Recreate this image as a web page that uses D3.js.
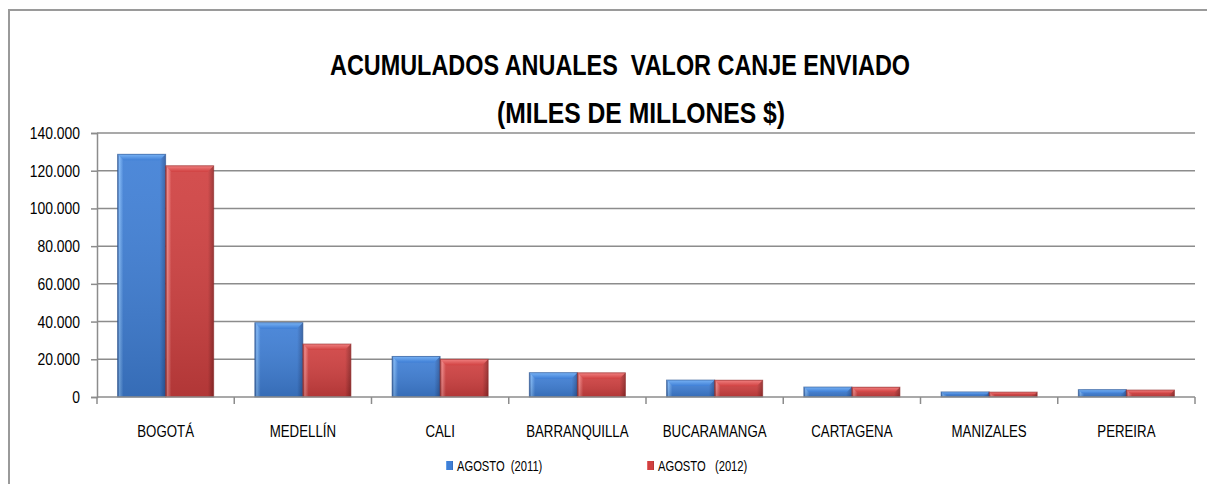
<!DOCTYPE html>
<html>
<head>
<meta charset="utf-8">
<script src="https://cdn.jsdelivr.net/npm/d3@7"></script>
<style>
  body { margin: 0; background: #fff; }
  svg { display: block; }
  text { font-family: "Liberation Sans", Arial, sans-serif; fill: #000; }
</style>
</head>
<body>
<script>
// Chart data
var cities = ["BOGOTÁ", "MEDELLÍN", "CALI", "BARRANQUILLA", "BUCARAMANGA", "CARTAGENA", "MANIZALES", "PEREIRA"];
var series = ["AGOSTO  (2011)", "AGOSTO   (2012)"];
var values2011 = [128700, 39400, 21500, 12900, 9000, 5300, 2700, 3900];
var values2012 = [122600, 28100, 20000, 12800, 8900, 5200, 2600, 3700];
var yTicks = [0, 20000, 40000, 60000, 80000, 100000, 120000, 140000];

var w = 1207, h = 484;
var plotLeft = 97, plotRight = 1195, plotTop = 133, plotBottom = 397;

var svg = d3.select("body").append("svg")
    .attr("width", w)
    .attr("height", h);

// outer chart frame (runs off the right and bottom edges)
svg.append("rect")
    .attr("x", 9).attr("y", 10)
    .attr("width", 1300).attr("height", 600)
    .attr("fill", "none")
    .attr("stroke", "#9a9a9a")
    .attr("stroke-width", 2);

// Gradients for the bevelled bars
var defs = svg.append("defs");
var palettes = [
    { id: "g0", edge: "#2d5aa0", mid: "#3f7fd6", light: "#78b2f4" },
    { id: "g1", edge: "#962a2a", mid: "#d04040", light: "#f08080" }
];
palettes.forEach(function(p) {
    var g = defs.append("linearGradient").attr("id", p.id)
        .attr("x1", 0).attr("x2", 1).attr("y1", 0).attr("y2", 0);
    g.append("stop").attr("offset", "0%").attr("stop-color", p.edge);
    g.append("stop").attr("offset", "4%").attr("stop-color", p.light);
    g.append("stop").attr("offset", "12%").attr("stop-color", p.mid);
    g.append("stop").attr("offset", "88%").attr("stop-color", p.mid);
    g.append("stop").attr("offset", "100%").attr("stop-color", p.edge);
    var v = defs.append("linearGradient").attr("id", p.id + "v")
        .attr("x1", 0).attr("x2", 0).attr("y1", 0).attr("y2", 1);
    v.append("stop").attr("offset", "0%").attr("stop-color", "#fff").attr("stop-opacity", 0.08);
    v.append("stop").attr("offset", "100%").attr("stop-color", "#000").attr("stop-opacity", 0.15);
    var t = defs.append("linearGradient").attr("id", p.id + "t")
        .attr("x1", 0).attr("x2", 0).attr("y1", 0).attr("y2", 1);
    t.append("stop").attr("offset", "0%").attr("stop-color", p.light);
    t.append("stop").attr("offset", "100%").attr("stop-color", p.mid);
});

// Scales
var y = d3.scaleLinear().domain([0, 140000]).range([plotBottom, plotTop]);
var x0 = d3.scaleBand().domain(cities).range([plotLeft, plotRight])
    .paddingInner(0.3).paddingOuter(0.15);
var x1 = d3.scaleBand().domain([0, 1]).range([0, x0.bandwidth()]);
var step = x0.step();

var locale = d3.formatLocale({ decimal: ",", thousands: ".", grouping: [3], currency: ["$", ""] });
var fmt = locale.format(",.0f");

// Gridlines
svg.append("g").selectAll("line")
    .data(yTicks.slice(1))
    .enter().append("line")
    .attr("x1", plotLeft).attr("x2", plotRight)
    .attr("y1", function(d) { return y(d); })
    .attr("y2", function(d) { return y(d); })
    .attr("stroke", "#8c8c8c")
    .attr("stroke-width", 1.5);

// Y axis (labels drawn by hand so the narrow look can be faked)
var yAxis = svg.append("g")
    .attr("transform", "translate(" + plotLeft + ",0)")
    .call(d3.axisLeft(y).tickValues(yTicks).tickFormat("").tickSize(6));
yAxis.select(".domain").attr("stroke", "#8c8c8c").attr("stroke-width", 1.5);
yAxis.selectAll(".tick line").attr("stroke", "#8c8c8c").attr("stroke-width", 1.5);

svg.append("g").selectAll("text")
    .data(yTicks)
    .enter().append("text")
    .attr("transform", function(d) { return "translate(80," + (y(d) + 6) + ") scale(0.82,1)"; })
    .attr("text-anchor", "end")
    .style("font-size", "17px")
    .text(function(d) { return fmt(d); });

// Bars
var data = [];
cities.forEach(function(c, i) {
    data.push({ city: c, s: 0, v: values2011[i] });
    data.push({ city: c, s: 1, v: values2012[i] });
});

var bars = svg.append("g").selectAll("g")
    .data(data)
    .enter().append("g")
    .attr("transform", function(d) { return "translate(" + (x0(d.city) + x1(d.s)) + ",0)"; });

bars.append("rect")
    .attr("x", 0)
    .attr("y", function(d) { return y(d.v); })
    .attr("width", x1.bandwidth())
    .attr("height", function(d) { return plotBottom - y(d.v); })
    .attr("fill", function(d) { return "url(#g" + d.s + ")"; });

bars.append("rect")
    .attr("x", 0)
    .attr("y", function(d) { return y(d.v); })
    .attr("width", x1.bandwidth())
    .attr("height", function(d) { return plotBottom - y(d.v); })
    .attr("fill", function(d) { return "url(#g" + d.s + "v)"; });

// top bevel
bars.append("path")
    .attr("d", function(d) {
        var t = y(d.v), bw = x1.bandwidth();
        var bh = Math.min(6, (plotBottom - t) / 2);
        return "M0," + t + "L" + bw + "," + t + "L" + (bw - bh) + "," + (t + bh) + "L" + bh + "," + (t + bh) + "Z";
    })
    .attr("fill", function(d) { return "url(#g" + d.s + "t)"; });

bars.append("rect")
    .attr("x", 0)
    .attr("y", function(d) { return y(d.v); })
    .attr("width", x1.bandwidth())
    .attr("height", function(d) { return plotBottom - y(d.v); })
    .attr("fill", "none")
    .attr("stroke", function(d) { return d.s === 0 ? "#2a548f" : "#8e2828"; })
    .attr("stroke-opacity", 0.6)
    .attr("stroke-width", 1);

// X axis
svg.append("line")
    .attr("x1", plotLeft).attr("x2", plotRight)
    .attr("y1", plotBottom).attr("y2", plotBottom)
    .attr("stroke", "#8c8c8c").attr("stroke-width", 1.5);

svg.append("g").selectAll("line")
    .data(d3.range(cities.length + 1))
    .enter().append("line")
    .attr("x1", function(i) { return plotLeft + i * step; })
    .attr("x2", function(i) { return plotLeft + i * step; })
    .attr("y1", plotBottom).attr("y2", plotBottom + 7)
    .attr("stroke", "#8c8c8c").attr("stroke-width", 1.5);

svg.append("g").selectAll("text")
    .data(cities)
    .enter().append("text")
    .attr("transform", function(d) {
        return "translate(" + (x0(d) + x0.bandwidth() / 2) + ",437) scale(0.78,1)";
    })
    .attr("text-anchor", "middle")
    .style("font-size", "17px")
    .text(function(d) { return d; });

// Title
svg.append("text")
    .attr("x", 330).attr("y", 75)
    .style("font-size", "30px").attr("font-weight", "bold")
    .attr("textLength", 580).attr("lengthAdjust", "spacingAndGlyphs")
    .style("white-space", "pre")
    .text("ACUMULADOS ANUALES  VALOR CANJE ENVIADO");

svg.append("text")
    .attr("x", 497).attr("y", 123)
    .style("font-size", "30px").attr("font-weight", "bold")
    .attr("textLength", 288).attr("lengthAdjust", "spacingAndGlyphs")
    .text("(MILES DE MILLONES $)");

// Legend
var legendX = [446, 647];
var legend = svg.append("g").selectAll("g")
    .data(series)
    .enter().append("g")
    .attr("transform", function(d, i) { return "translate(" + legendX[i] + ",461)"; });

legend.append("rect")
    .attr("width", 7).attr("height", 9)
    .attr("fill", function(d, i) { return "url(#g" + i + ")"; });

legend.append("text")
    .attr("transform", "translate(11,10) scale(0.8,1)")
    .style("font-size", "14px")
    .style("white-space", "pre")
    .text(function(d) { return d; });
</script>
</body>
</html>
